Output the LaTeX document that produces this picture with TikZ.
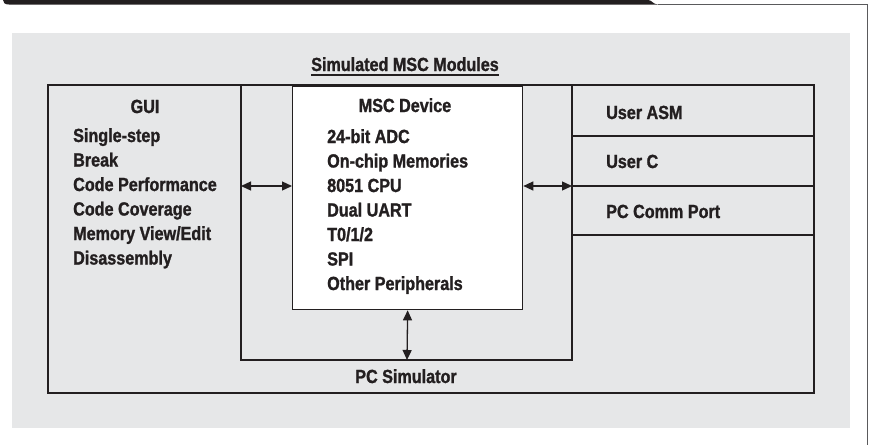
\documentclass[tikz,border=0pt]{standalone}
\usepackage{fontspec}
\setmainfont{Liberation Sans}[FakeStretch=0.85, BoldFeatures={FakeBold=1.3}]
\usetikzlibrary{arrows.meta}
\definecolor{bggray}{HTML}{E6E7E8}
\definecolor{ink}{HTML}{231F20}
\definecolor{rimgray}{HTML}{5A5A5C}
\tikzset{
  lbl/.style={inner sep=0pt, text=ink, font=\fontsize{19}{24.5}\selectfont\bfseries},
  frame/.style={draw=ink, line width=1.3pt},
  arr/.style={draw=ink, line width=1.3pt, {Triangle[length=10pt,width=9pt]}-{Triangle[length=10pt,width=9pt]}}
}
\begin{document}
\begin{tikzpicture}[x=1pt,y=-1pt]
\useasboundingbox (0,0) rectangle (869,445);
% page header
\fill[ink] (3,0) -- (648,0) .. controls (652,0) and (653,4.5) .. (658,4.5) -- (9,4.5) .. controls (5,4.5) and (3,3) .. (3,0) -- cycle;
\draw[rimgray, line width=1pt] (658,4.5) -- (867,4.5) -- (867,445);
% background
\fill[bggray] (12,33) rectangle (850,428);
% outer PC simulator frame
\draw[frame] (48,85) rectangle (814,393);
\draw[frame] (241,85) -- (241,360) -- (572,360) -- (572,85);
% right column dividers
\draw[frame] (572,136) -- (814,136);
\draw[frame] (572,186) -- (814,186);
\draw[frame] (572,235) -- (814,235);
% MSC device box
\node[frame, fill=white, minimum width=230pt, minimum height=223pt, inner sep=0pt, anchor=north west] (msc) at (292,86) {};
% title
\node[lbl, anchor=base] (title) at (405,71) {Simulated MSC Modules};
\draw[ink, line width=1.2pt] ([yshift=-4pt]title.base west) -- ([yshift=-4pt]title.base east);
% GUI
\node[lbl, anchor=base] (gui) at (145,113) {GUI};
\foreach \t [count=\i] in {Single-step, Break, Code Performance, Code Coverage, Memory View/Edit, Disassembly}
  \node[lbl, anchor=base west] (g\i) at (73,{142+24.5*(\i-1)}) {\t};
% MSC
\node[lbl, anchor=base] (mscT) at (405,112) {MSC Device};
\foreach \t [count=\i] in {24-bit ADC, On-chip Memories, 8051 CPU, Dual UART, T0/1/2, SPI, Other Peripherals}
  \node[lbl, anchor=base west] (m\i) at (327,{143+24.5*(\i-1)}) {\t};
% right column
\node[lbl, anchor=base west] (uasm) at (606,119) {User ASM};
\node[lbl, anchor=base west] (uc) at (606,168) {User C};
\node[lbl, anchor=base west] (pcc) at (606,218) {PC Comm Port};
% PC simulator label
\node[lbl, anchor=base] (pcs) at (406,383) {PC Simulator};
% connectors
\coordinate (guiE) at (241,186);
\coordinate (rightW) at (572,186);
\coordinate (simTop) at (407,360);
\draw[arr] (guiE) -- (msc.west |- guiE);
\draw[arr] (msc.east |- rightW) -- (rightW);
\draw[arr] (msc.south) -- (simTop);
\end{tikzpicture}
\end{document}
